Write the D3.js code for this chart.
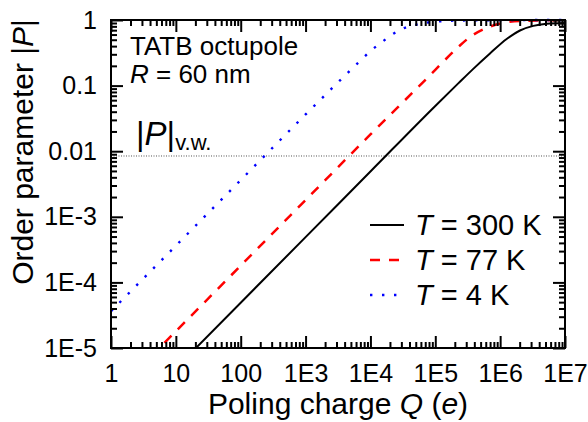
<!DOCTYPE html>
<html>
<head>
<meta charset="utf-8">
<script src="https://cdn.jsdelivr.net/npm/d3@7"></script>
<style>
body { margin: 0; background: #fff; }
svg { font-family: Arial, "Liberation Sans", sans-serif; }
</style>
</head>
<body>
<svg id="chart" width="588" height="422"></svg>
<script>
// data
var q300 = [10, 1e3, 1e4, 1e5, 2.26e5, 3.85e5, 6.97e5, 1.26e6, 2.02e6, 3.24e6, 5.22e6, 1e7];
var p300 = [4.9e-6, 4.9e-4, 4.9e-3, 0.049, 0.108, 0.180, 0.309, 0.513, 0.692, 0.813, 0.875, 0.902];

var q77 = [1, 10, 1e3, 1e4, 1e5, 1.33e5, 2.01e5, 3.43e5, 6.19e5, 1.05e6, 2.02e6, 1e7];
var p77 = [1.8e-6, 1.8e-5, 1.8e-3, 0.018, 0.174, 0.232, 0.347, 0.550, 0.759, 0.891, 0.966, 0.995];

var q4 = [1, 100, 1e3, 3.16e3, 7.33e3, 1.04e4, 1.49e4, 2.17e4, 3.21e4, 4.86e4, 7.8e4, 1.17e5, 3.16e5, 1e7];
var p4 = [3.63e-5, 3.63e-3, 0.0363, 0.112, 0.251, 0.347, 0.457, 0.603, 0.746, 0.841, 0.918, 0.955, 0.986, 1.0];

var pVW = 0.00845;

var xTicks = [1, 10, 100, 1e3, 1e4, 1e5, 1e6, 1e7];
var xTickLabels = ["1", "10", "100", "1E3", "1E4", "1E5", "1E6", "1E7"];
var yTicks = [1e-5, 1e-4, 1e-3, 0.01, 0.1, 1];
var yTickLabels = ["1E-5", "1E-4", "1E-3", "0.01", "0.1", "1"];

var seriesNames = ["300 K", "77 K", "4 K"];

// set some element
var svg = d3.select("#chart");
var mLeft = 111, mRight = 565, mTop = 20, mBottom = 348;

var x = d3.scaleLog().domain([1, 1e7]).range([mLeft, mRight]);
var y = d3.scaleLog().domain([1e-5, 1]).range([mBottom, mTop]);

var minorX = x.ticks().filter(function(d) { return xTicks.indexOf(d) < 0; });
var minorY = y.ticks().filter(function(d) { return yTicks.indexOf(d) < 0; });

svg.append("clipPath").attr("id", "clip")
	.append("rect")
	.attr("x", mLeft).attr("y", mTop - 3)
	.attr("width", mRight - mLeft).attr("height", mBottom - mTop + 3);

// reference line
svg.append("line")
	.attr("x1", mLeft).attr("x2", mRight)
	.attr("y1", y(pVW)).attr("y2", y(pVW))
	.attr("stroke", "#555")
	.attr("stroke-width", 1)
	.attr("stroke-dasharray", "1 1.5");

var series = [
	{ q: q300, p: p300, color: "#000", dash: null, width: 2 },
	{ q: q77, p: p77, color: "#f00", dash: "10 9", width: 2.5 },
	{ q: q4, p: p4, color: "#00f", dash: "2.4 9.6", width: 2.4 }
];

var line = d3.line()
	.x(function(d) { return x(d[0]); })
	.y(function(d) { return y(d[1]); })
	.curve(d3.curveMonotoneX);

var g = svg.append("g").attr("clip-path", "url(#clip)");
series.forEach(function(s) {
	g.append("path")
		.datum(d3.zip(s.q, s.p))
		.attr("d", line)
		.attr("fill", "none")
		.attr("stroke", s.color)
		.attr("stroke-width", s.width)
		.attr("stroke-dasharray", s.dash);
});

// axes, ticks inward on all sides
function styleAxis(sel) {
	sel.select(".domain").remove();
	sel.selectAll("line").attr("stroke", "#000").attr("stroke-width", 2);
	sel.selectAll("text").attr("font-size", 25).attr("fill", "#000");
}

svg.append("g").attr("transform", "translate(0," + mBottom + ")")
	.call(d3.axisBottom(x).tickValues(xTicks).tickSize(-12).tickPadding(16)
		.tickFormat(function(d, i) { return xTickLabels[i]; }))
	.call(styleAxis);
svg.append("g").attr("transform", "translate(0," + mBottom + ")")
	.call(d3.axisBottom(x).tickValues(minorX).tickSize(-6).tickFormat(""))
	.call(styleAxis);
svg.append("g").attr("transform", "translate(0," + mTop + ")")
	.call(d3.axisTop(x).tickValues(xTicks).tickSize(-12).tickFormat(""))
	.call(styleAxis);
svg.append("g").attr("transform", "translate(0," + mTop + ")")
	.call(d3.axisTop(x).tickValues(minorX).tickSize(-6).tickFormat(""))
	.call(styleAxis);

svg.append("g").attr("transform", "translate(" + mLeft + ",0)")
	.call(d3.axisLeft(y).tickValues(yTicks).tickSize(-12).tickPadding(14)
		.tickFormat(function(d, i) { return yTickLabels[i]; }))
	.call(styleAxis);
svg.append("g").attr("transform", "translate(" + mLeft + ",0)")
	.call(d3.axisLeft(y).tickValues(minorY).tickSize(-6).tickFormat(""))
	.call(styleAxis);
svg.append("g").attr("transform", "translate(" + mRight + ",0)")
	.call(d3.axisRight(y).tickValues(yTicks).tickSize(-12).tickFormat(""))
	.call(styleAxis);
svg.append("g").attr("transform", "translate(" + mRight + ",0)")
	.call(d3.axisRight(y).tickValues(minorY).tickSize(-6).tickFormat(""))
	.call(styleAxis);

svg.append("rect")
	.attr("x", mLeft).attr("y", mTop)
	.attr("width", mRight - mLeft).attr("height", mBottom - mTop)
	.attr("fill", "none").attr("stroke", "#000").attr("stroke-width", 2);

// axis titles
var xt = svg.append("text")
	.attr("x", (mLeft + mRight) / 2).attr("y", 414)
	.attr("text-anchor", "middle").attr("font-size", 30);
xt.append("tspan").text("Poling charge ");
xt.append("tspan").attr("font-style", "italic").text("Q");
xt.append("tspan").text(" (");
xt.append("tspan").attr("font-style", "italic").text("e");
xt.append("tspan").text(")");

var yt = svg.append("text")
	.attr("transform", "translate(33," + 152 + ") rotate(-90)")
	.attr("text-anchor", "middle").attr("font-size", 30);
yt.append("tspan").text("Order parameter |");
yt.append("tspan").attr("font-style", "italic").text("P");
yt.append("tspan").text("|");

// annotations
svg.append("text").attr("x", 130).attr("y", 55).attr("font-size", 26).text("TATB octupole");
var rt = svg.append("text").attr("x", 130).attr("y", 83).attr("font-size", 26);
rt.append("tspan").attr("font-style", "italic").text("R");
rt.append("tspan").text(" = 60 nm");

var pv = svg.append("text").attr("x", 136).attr("y", 145).attr("font-size", 33);
pv.append("tspan").text("|");
pv.append("tspan").attr("font-style", "italic").text("P");
pv.append("tspan").text("|");
pv.append("tspan").attr("font-size", 22).attr("dy", 5).text("v.w.");

// legend
var legend = svg.append("g");
series.forEach(function(s, i) {
	var ly = 225 + i * 35;
	legend.append("line")
		.attr("x1", 370).attr("x2", 404)
		.attr("y1", ly).attr("y2", ly)
		.attr("stroke", s.color)
		.attr("stroke-width", s.width)
		.attr("stroke-dasharray", s.dash);
	var t = legend.append("text").attr("x", 415).attr("y", ly + 10).attr("font-size", 29);
	t.append("tspan").attr("font-style", "italic").text("T");
	t.append("tspan").text(" = " + seriesNames[i]);
});
</script>
</body>
</html>
